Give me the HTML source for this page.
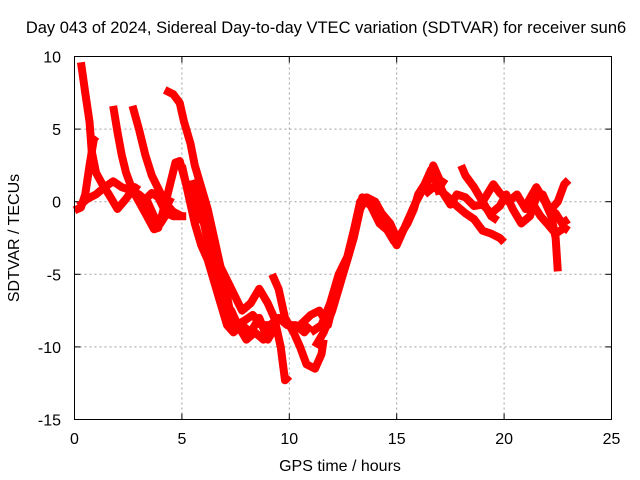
<!DOCTYPE html>
<html><head><meta charset="utf-8"><style>
body{margin:0;background:#fff}
svg{display:block;font-family:"Liberation Sans",sans-serif}
</style></head><body>
<svg id="chart" width="640" height="480">
<text x="326" y="33" font-size="16.5" text-anchor="middle">Day 043 of 2024, Sidereal Day-to-day VTEC variation (SDTVAR) for receiver sun6</text>
<text x="340" y="471" font-size="16" text-anchor="middle">GPS time / hours</text>
<text transform="translate(19,238) rotate(-90)" font-size="16" text-anchor="middle">SDTVAR / TECUs</text>
<g id="grid"></g><g id="ticks"></g><g id="series"></g>
<rect x="74.5" y="56.5" width="537" height="363" fill="none" stroke="#000" stroke-width="1"/>
</svg>
<script>
const xTicks=[0,5,10,15,20,25];
const yTicks=[10,5,0,-5,-10,-15];
const tracks=[
[[0.3,9.6],[0.5,7.5],[0.7,5.5],[0.8,3.5],[1.0,2],[1.3,1.2],[1.6,0.5],[2.0,-0.5],[2.4,0.2],[2.8,1],[3.0,0.8]],
[[0,-0.6],[0.3,-0.4],[0.5,0.5],[0.7,2.5],[0.9,4.3],[1.0,4.5]],
[[0.2,-0.3],[0.6,0.2],[1.0,0.5],[1.4,1.0],[1.8,1.4],[2.2,1.0],[2.6,0.8],[3.0,0.5],[3.4,0],[3.7,-1.0],[4.0,-1.5],[4.3,-0.8],[4.6,-1.0],[5.2,-1.0]],
[[1.8,6.6],[2.0,4.8],[2.2,3.2],[2.4,2.0],[2.7,0.8],[3.0,0],[3.3,-0.8],[3.7,-1.9],[3.9,-1.8],[4.1,-0.8],[4.3,0.3],[4.5,1.5],[4.7,2.7],[4.9,2.8],[5.2,1.2],[5.5,0.2],[5.8,-1.5]],
[[2.7,6.6],[3.0,5.0],[3.3,3.2],[3.6,1.8],[4.0,0.6],[4.3,-0.2],[4.6,-0.7],[5.0,-1.0]],
[[3.2,0],[3.6,0.6],[3.9,0.3],[4.2,-0.6],[4.5,0.3]],
[[4.2,7.7],[4.6,7.4],[4.9,6.8],[5.1,5.5],[5.4,4.0],[5.6,2.5],[5.9,1],[6.2,-0.5],[6.5,-2.5],[6.8,-4.5],[7.1,-6.5],[7.3,-8],[7.5,-8.5],[7.9,-8.2],[8.3,-7.8],[8.7,-8.5],[9.1,-8.5],[9.5,-8],[9.9,-8.5],[10.3,-8.5],[10.7,-9],[11.0,-8.5]],
[[5.0,2.5],[5.3,0.5],[5.6,-1.5],[5.9,-3],[6.2,-4],[6.5,-5.5],[6.8,-7],[7.1,-8.5],[7.4,-9],[7.8,-8.5],[8.2,-9],[8.6,-8],[9.0,-9.5],[9.4,-8.5]],
[[5.5,1.5],[5.8,0],[6.1,-2],[6.4,-4],[6.7,-5.5],[7.0,-7],[7.3,-7.5],[7.6,-8.5],[8.0,-9.5],[8.4,-9],[8.8,-9.5],[9.2,-8.5]],
[[6.8,-4.5],[7.3,-6],[7.8,-7.5],[8.2,-7],[8.6,-6],[9.0,-7],[9.3,-8],[9.6,-10],[9.8,-12.3],[10.0,-12]],
[[9.2,-5],[9.5,-6],[9.8,-8],[10.2,-9],[10.5,-10],[10.8,-11.2],[11.2,-11.5],[11.5,-10.5],[11.6,-9.5]],
[[10.5,-8.5],[11.0,-7.8],[11.4,-7.5],[11.8,-8.5],[12.2,-6],[12.6,-4.5],[13.0,-2.5],[13.3,-0.5],[13.6,0.3],[14.0,0],[14.3,-0.8],[14.7,-1.5],[15.0,-2.5],[15.2,-2.2],[15.5,-1.5],[15.8,-0.5],[16.0,0.5],[16.3,1.2],[16.6,2.2],[16.8,1.5],[17.0,0.5]],
[[11.2,-10],[11.6,-9],[12.0,-7.5],[12.4,-5.5],[12.8,-3.5],[13.1,-1.5],[13.4,0.3],[13.8,-0.3],[14.2,-1.5],[14.6,-2],[15.0,-3],[15.3,-2],[15.6,-1],[15.9,0],[16.2,0.8],[16.5,1.5],[16.7,2.5],[17.0,1.5],[17.3,1.2]],
[[11.0,-9],[11.5,-8.5],[11.9,-7],[12.3,-5],[12.7,-3.8],[13.0,-2],[13.3,0],[13.7,0],[14.1,-1],[14.5,-1.8],[14.9,-2.8]],
[[16.3,0.5],[16.7,1.0],[17.0,0.8],[17.4,0.3],[17.8,-0.3],[18.2,-0.8],[18.6,-1.2],[19.0,-2],[19.4,-2.2],[19.8,-2.5],[20.0,-2.8]],
[[18.0,2.5],[18.2,1.8],[18.6,1],[19.0,0],[19.4,-1],[19.7,-1.3]],
[[16.8,1.8],[17.2,0.5],[17.5,-0.2],[17.8,0.5],[18.2,0.3],[18.6,-0.3],[19.0,-0.2],[19.4,-0.8],[19.8,-0.3],[20.1,0.5],[20.4,-0.5],[20.8,-1.5],[21.2,-1.0],[21.5,0.3],[21.8,0.5],[22.1,-0.5],[22.4,-0.8],[22.7,-1.5],[23.0,-1.2]],
[[19.0,0],[19.5,1.2],[19.8,0.6],[20.2,0],[20.6,0.5],[21.0,-0.5],[21.4,-0.3],[21.7,-1.0],[22.0,-1.5],[22.4,-2.2],[22.8,-1.8],[23.0,-2]],
[[21.0,-0.3],[21.5,1.0],[21.9,0],[22.2,-1],[22.4,-2.5],[22.5,-4.8]],
[[22.2,-0.5],[22.5,0],[22.8,1.2],[23.0,1.5]]
];
const X0=74.5,X1=611.5,Y0=419.5,Y1=56.5;
const xs=v=>X0+(v-0)/(25-0)*(X1-X0);
const ys=v=>Y0-(v+15)/(25)*(Y0-Y1);
const NS="http://www.w3.org/2000/svg";
function mk(t,a,p){const e=document.createElementNS(NS,t);for(const k in a)e.setAttribute(k,a[k]);p.appendChild(e);return e;}
const grid=document.getElementById('grid'),ticks=document.getElementById('ticks'),ser=document.getElementById('series');
xTicks.forEach(t=>{const x=xs(t);
 if(t>0&&t<25){const g=mk('line',{x1:x,x2:x,y1:Y0,y2:Y1,stroke:'#a0a0a0','stroke-dasharray':'2,3'},grid);
 
 }
 mk('line',{x1:x,x2:x,y1:Y0,y2:Y0-6,stroke:'#000'},ticks);
 mk('line',{x1:x,x2:x,y1:Y1,y2:Y1+6,stroke:'#000'},ticks);
 const l=mk('text',{x:x,y:444,'font-size':16,'text-anchor':'middle'},ticks);l.textContent=t;
 
 });
yTicks.forEach(t=>{const y=ys(t);
 if(t>-15&&t<10){const g=mk('line',{x1:X0,x2:X1,y1:y,y2:y,stroke:'#a0a0a0','stroke-dasharray':'2,3'},grid);
 
 }
 mk('line',{x1:X0,x2:X0+6,y1:y,y2:y,stroke:'#000'},ticks);
 mk('line',{x1:X1,x2:X1-6,y1:y,y2:y,stroke:'#000'},ticks);
 const l=mk('text',{x:61,y:y+6,'font-size':16,'text-anchor':'end'},ticks);l.textContent=t;
 
 });
tracks.forEach((tr,i)=>{
 const p=mk('polyline',{points:tr.map(d=>xs(d[0])+','+ys(d[1])).join(' '),fill:'none',stroke:'#ff0000','stroke-width':8,'stroke-linejoin':'round','stroke-linecap':'butt'},ser);
 
 
});
</script>
</body></html>
